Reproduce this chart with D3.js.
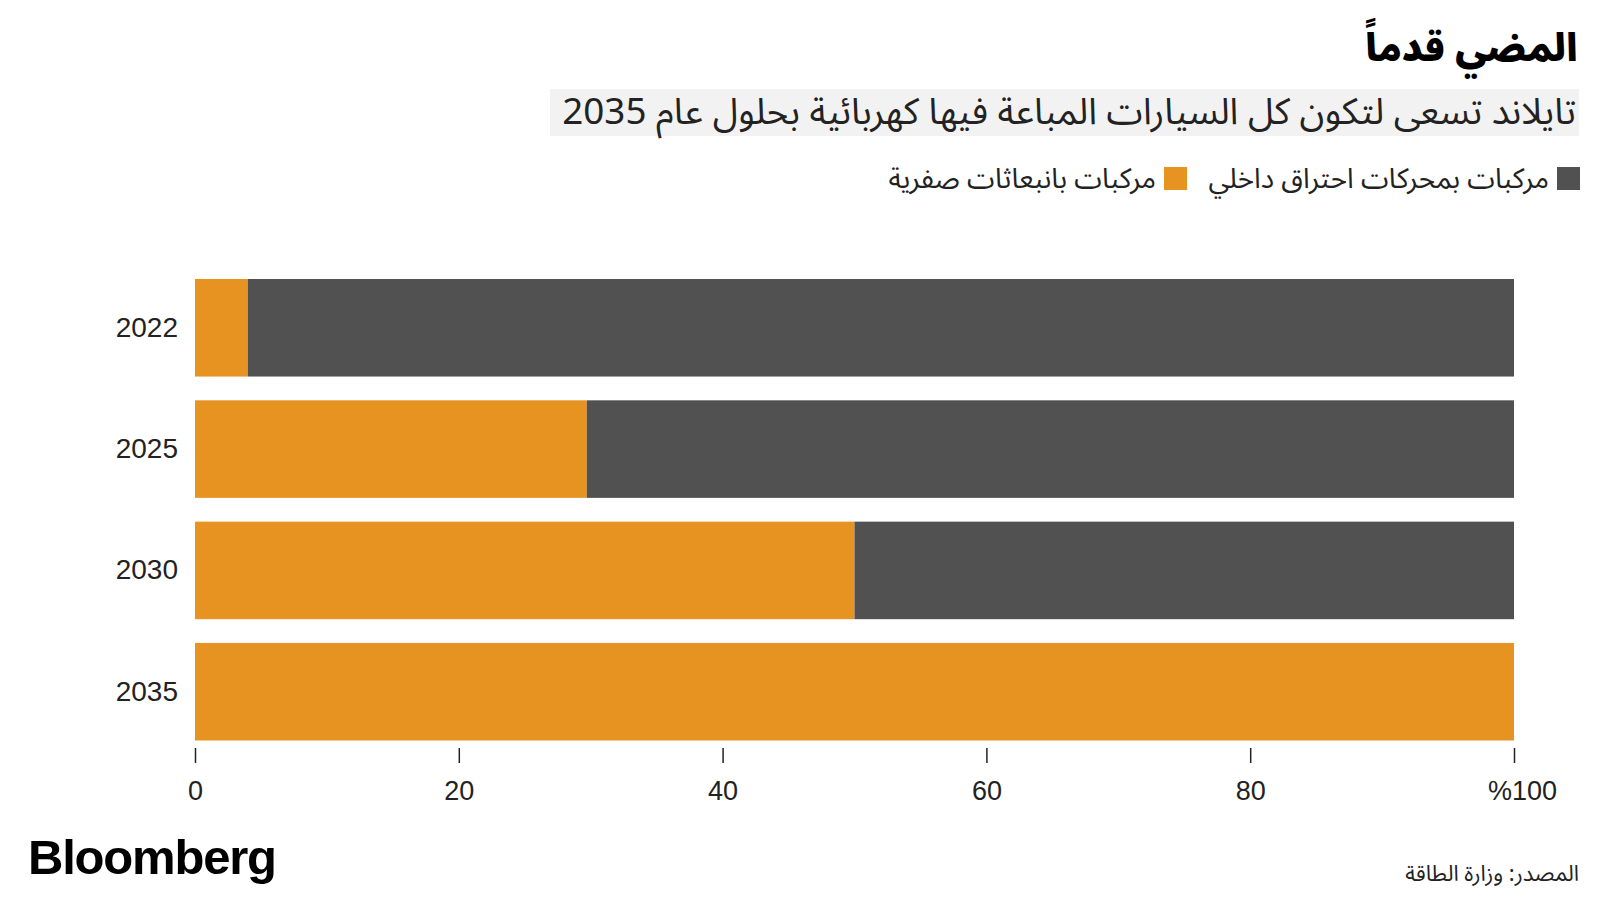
<!DOCTYPE html>
<html><head><meta charset="utf-8">
<script src="https://cdn.jsdelivr.net/npm/d3@7"></script>
<style>
html,body{margin:0;padding:0;background:#fff;}
svg{display:block;}
</style></head>
<body>
<svg id="chart" width="1600" height="900"></svg>
<script>
const years = ["2022", "2025", "2030", "2035"];
const zeroEmission = [4, 29.7, 50, 100];
const combustion = [96, 70.3, 50, 0];
const tickValues = [0, 20, 40, 60, 80, 100];
const tickLabels = ["0", "20", "40", "60", "80", "%100"];
const seriesNames = ["مركبات بمحركات احتراق داخلي", "مركبات بانبعاثات صفرية"];
const colors = ["#515151", "#E69322"];
const title = "المضي قدماً";
const subtitle = "تايلاند تسعى لتكون كل السيارات المباعة فيها كهربائية بحلول عام 2035";
const source = "المصدر: وزارة الطاقة";

const arabicFont = "'Noto Sans Arabic','DejaVu Sans',sans-serif";
const latinFont = "'Liberation Sans',Arial,sans-serif";

const svg = d3.select("#chart");

const x = d3.scaleLinear().domain([0, 100]).range([195, 1514]);
const y = d3.scaleBand().domain(years).range([279, 740.5]).paddingInner(0.196).paddingOuter(0);

// Title
svg.append("text").attr("x", 1578).attr("y", 61).attr("text-anchor", "end")
  .style("font-family", arabicFont).style("font-weight", "900").style("font-size", "38px")
  .attr("fill", "#000").text(title);

// Subtitle with background
const subG = svg.append("g");
const subBg = subG.append("rect").attr("fill", "#f2f2f2")
  .attr("x", 550).attr("y", 89).attr("width", 1579 - 550).attr("height", 47);
const subT = subG.append("text").attr("x", 1576).attr("y", 124).attr("text-anchor", "end")
  .style("font-family", arabicFont).style("font-size", "31px").attr("fill", "#222").text(subtitle);
const targetW = 1576 - 561;
const w0 = subT.node().getComputedTextLength();
if (w0 > 0) {
  const fs = Math.min(40, 31 * targetW / w0);
  subT.style("font-size", fs.toFixed(1) + "px");
}

// Legend
const legendItems = [
  {name: seriesNames[0], color: colors[0], sqX: 1557, textX: 1549},
  {name: seriesNames[1], color: colors[1], sqX: 1164, textX: 1156}
];
legendItems.forEach(d => {
  svg.append("rect").attr("x", d.sqX).attr("y", 167).attr("width", 23).attr("height", 23).attr("fill", d.color);
  svg.append("text").attr("x", d.textX).attr("y", 188).attr("text-anchor", "end")
    .style("font-family", arabicFont).style("font-size", "28px").attr("fill", "#222").text(d.name);
});

// Bars
const rows = years.map((yr, i) => ({year: yr, zev: zeroEmission[i], ice: combustion[i]}));
const barG = svg.append("g");
barG.selectAll("rect.zev").data(rows).join("rect").attr("class", "zev")
  .attr("x", x(0)).attr("y", d => y(d.year))
  .attr("width", d => x(d.zev) - x(0)).attr("height", y.bandwidth())
  .attr("fill", colors[1]);
barG.selectAll("rect.ice").data(rows).join("rect").attr("class", "ice")
  .attr("x", d => x(d.zev)).attr("y", d => y(d.year))
  .attr("width", d => x(d.zev + d.ice) - x(d.zev)).attr("height", y.bandwidth())
  .attr("fill", colors[0]);

// Y labels
const yAxis = d3.axisLeft(y).tickSize(0).tickPadding(17);
const yG = svg.append("g").attr("transform", `translate(${x(0)},0)`).call(yAxis);
yG.select(".domain").remove();
yG.selectAll("text").style("font-family", latinFont).style("font-size", "28px").attr("fill", "#222");

// X axis
const xAxis = d3.axisBottom(x).tickValues(tickValues).tickSize(15).tickPadding(18)
  .tickFormat((d, i) => tickLabels[i]);
const xG = svg.append("g").attr("transform", "translate(0,748)").call(xAxis);
xG.select(".domain").remove();
xG.selectAll(".tick line").attr("stroke", "#222").attr("stroke-width", 1.5);
xG.selectAll("text").style("font-family", latinFont).style("font-size", "27px").attr("fill", "#222")
  .attr("direction", "ltr")
  .attr("dx", (d, i) => i === tickValues.length - 1 ? 8 : 0);

// Bloomberg logo
svg.append("text").attr("x", 28).attr("y", 874)
  .style("font-family", latinFont).style("font-weight", "700").style("font-size", "49px")
  .style("letter-spacing", "-1.2px").attr("fill", "#000").text("Bloomberg");

// Source
svg.append("text").attr("x", 1579).attr("y", 881).attr("text-anchor", "end")
  .style("font-family", arabicFont).style("font-size", "22px").attr("fill", "#222").text(source);
</script>
</body></html>
